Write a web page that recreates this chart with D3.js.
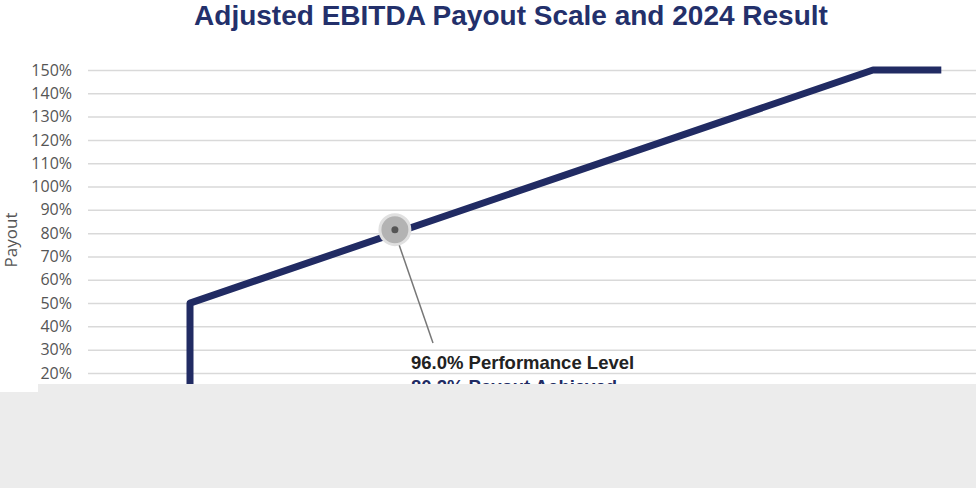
<!DOCTYPE html><html><head><script src="https://cdn.jsdelivr.net/npm/d3@7"></script>
<style>body{margin:0;background:#fff}</style></head><body><svg id="c" width="976" height="488"></svg><script>
const perf=[90,90,110,112];
const payout=[0,50,150,150];
const yTicks=[0,10,20,30,40,50,60,70,80,90,100,110,120,130,140,150];
const result={perf:96.0,payout:80.2};
const svg=d3.select("#c");
const x=d3.scaleLinear().domain([90,110]).range([190,873]);
const y=d3.scaleLinear().domain([0,150]).range([419.6,70]);
svg.append("text").attr("x",511).attr("y",25).attr("text-anchor","middle").attr("font-family","Liberation Sans, Arial").attr("font-weight","bold").attr("font-size",28).attr("fill","#23306b").text("Adjusted EBITDA Payout Scale and 2024 Result");
const g=svg.append("g").attr("transform","translate(88,0)");
g.call(d3.axisLeft(y).tickValues(yTicks).tickSize(-888).tickFormat(d=>d+"%")).call(a=>a.select(".domain").remove())
 .call(a=>a.selectAll("line").attr("stroke","#d9d9d9").attr("stroke-width",1.5))
 .call(a=>a.selectAll("text").attr("x",-16).attr("fill","#555").attr("font-family","Open Sans, sans-serif").attr("font-size",16));
svg.append("text").attr("transform","translate(17,240) rotate(-90)").attr("text-anchor","middle").attr("font-family","Open Sans, sans-serif").attr("font-size",17).attr("fill","#555").text("Payout");
svg.append("path").datum(perf.map((p,i)=>[p,payout[i]])).attr("d",d3.line().x(d=>x(d[0])).y(d=>y(d[1]))).attr("fill","none").attr("stroke","#212b63").attr("stroke-width",7).attr("stroke-linejoin","round");
const cx=x(result.perf),cy=y(result.payout);
svg.append("line").attr("x1",cx).attr("y1",cy).attr("x2",433).attr("y2",343).attr("stroke","#777").attr("stroke-width",1.5);
svg.append("circle").attr("cx",cx).attr("cy",cy-3).attr("r",15).attr("fill","#b3b3b3").attr("stroke","#e0e0e0").attr("stroke-width",3);
svg.append("circle").attr("cx",cx).attr("cy",cy-3).attr("r",3.5).attr("fill","#555");
svg.append("text").attr("x",411).attr("y",369).attr("font-family","Liberation Sans, Arial").attr("font-weight","bold").attr("font-size",18.5).attr("fill","#222").text(result.perf.toFixed(1)+"% Performance Level");
svg.append("text").attr("x",411).attr("y",393).attr("font-family","Liberation Sans, Arial").attr("font-weight","bold").attr("font-size",18.5).attr("fill","#212b63").text(result.payout.toFixed(1)+"% Payout Achieved");
svg.append("rect").attr("x",38).attr("y",384).attr("width",938).attr("height",104).attr("fill","#ececec");
svg.append("rect").attr("x",0).attr("y",392).attr("width",40).attr("height",96).attr("fill","#ececec");
</script></body></html>
